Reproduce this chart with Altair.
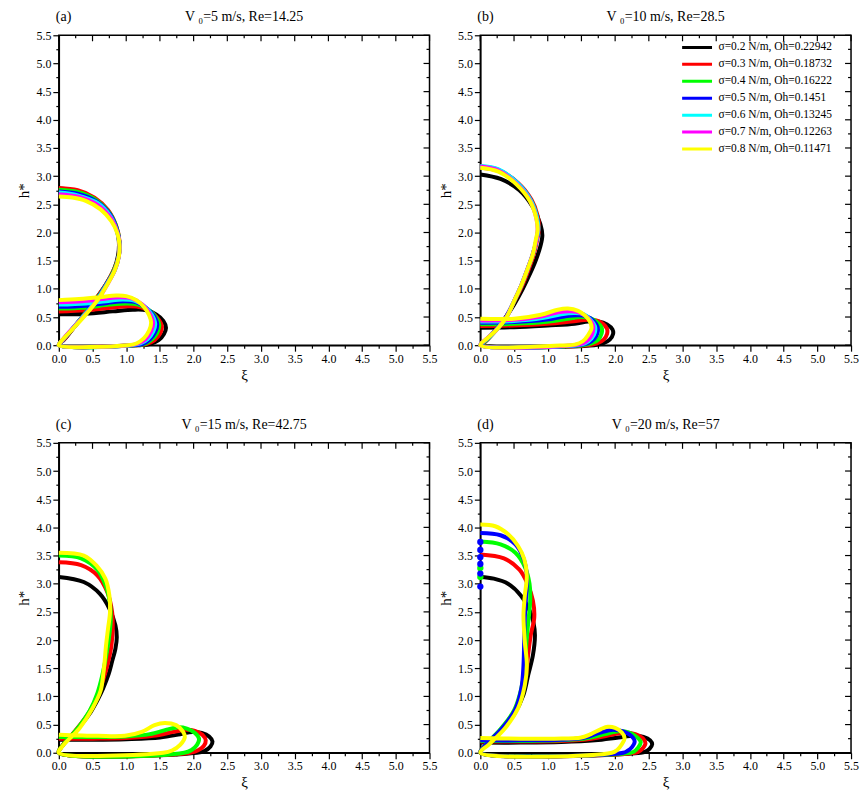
import altair as alt
import pandas as pd

FONT = "Liberation Serif"
LABELS = ["σ=0.2 N/m, Oh=0.22942", "σ=0.3 N/m, Oh=0.18732", "σ=0.4 N/m, Oh=0.16222",
          "σ=0.5 N/m, Oh=0.1451", "σ=0.6 N/m, Oh=0.13245", "σ=0.7 N/m, Oh=0.12263",
          "σ=0.8 N/m, Oh=0.11471"]
COLORS = ["#000000", "#ff0000", "#00ff00", "#0000ff", "#00ffff", "#ff00ff", "#ffff00"]
TITLES = ["V ₀=5 m/s, Re=14.25", "V ₀=10 m/s, Re=28.5", "V ₀=15 m/s, Re=42.75", "V ₀=20 m/s, Re=57"]
TAGS = ["(a)", "(b)", "(c)", "(d)"]
MAJOR = [0.0, 0.5, 1.0, 1.5, 2.0, 2.5, 3.0, 3.5, 4.0, 4.5, 5.0, 5.5]
MINOR = [0.25, 0.75, 1.25, 1.75, 2.25, 2.75, 3.25, 3.75, 4.25, 4.75, 5.25]

# ---- panel (a) V0=5 m/s ----
A_BLACK = [(0,0.55),(0.4,0.56),(0.8,0.6),(1.1,0.63),(1.3,0.62),(1.45,0.54),(1.55,0.43),(1.59,0.31),(1.56,0.2),(1.48,0.09),(1.35,0.02),(1.2,0.0),(0,0.0),
           (0.08,0.1),(0.2,0.28),(0.38,0.55),(0.55,0.82),(0.7,1.08),(0.82,1.35),(0.88,1.6),(0.89,1.85),(0.84,2.12),(0.72,2.38),(0.52,2.6),(0.28,2.73),(0,2.78)]
A_RED = [(0,0.6),(0.4,0.62),(0.8,0.67),(1.05,0.69),(1.22,0.67),(1.38,0.58),(1.48,0.46),(1.53,0.33),(1.5,0.2),(1.42,0.09),(1.3,0.02),(1.15,0.0),(0,0.0),
         (0.08,0.1),(0.2,0.28),(0.38,0.55),(0.55,0.82),(0.7,1.08),(0.82,1.35),(0.89,1.6),(0.9,1.85),(0.85,2.12),(0.73,2.4),(0.53,2.62),(0.28,2.75),(0,2.79)]
A_GREEN = [(0,0.65),(0.4,0.67),(0.75,0.72),(1.02,0.74),(1.18,0.72),(1.33,0.63),(1.44,0.5),(1.49,0.36),(1.46,0.22),(1.38,0.1),(1.27,0.02),(1.12,0.0),(0,0.0),
           (0.07,0.1),(0.19,0.27),(0.38,0.55),(0.56,0.82),(0.7,1.07),(0.82,1.34),(0.89,1.59),(0.9,1.82),(0.86,2.08),(0.75,2.35),(0.55,2.58),(0.28,2.72),(0,2.76)]
A_BLUE = [(0,0.68),(0.4,0.7),(0.72,0.75),(0.98,0.78),(1.15,0.76),(1.3,0.66),(1.41,0.52),(1.46,0.37),(1.43,0.23),(1.35,0.1),(1.24,0.02),(1.1,0.0),(0,0.0),
          (0.06,0.09),(0.18,0.26),(0.38,0.54),(0.57,0.82),(0.7,1.07),(0.83,1.34),(0.89,1.58),(0.9,1.81),(0.86,2.06),(0.76,2.32),(0.56,2.55),(0.28,2.69),(0,2.73)]
A_CYAN = [(0,0.72),(0.4,0.74),(0.7,0.78),(0.95,0.81),(1.12,0.79),(1.27,0.69),(1.38,0.54),(1.43,0.38),(1.4,0.24),(1.32,0.11),(1.21,0.03),(1.07,0.0),(0,0.0),
          (0.05,0.08),(0.17,0.25),(0.38,0.54),(0.57,0.81),(0.7,1.06),(0.83,1.33),(0.89,1.58),(0.9,1.8),(0.86,2.03),(0.77,2.28),(0.58,2.52),(0.28,2.66),(0,2.71)]
A_MAGENTA = [(0,0.76),(0.35,0.78),(0.65,0.82),(0.92,0.85),(1.08,0.83),(1.24,0.72),(1.35,0.56),(1.4,0.39),(1.37,0.25),(1.29,0.11),(1.18,0.03),(1.04,0.0),(0,0.0),
             (0.04,0.07),(0.16,0.24),(0.39,0.54),(0.58,0.81),(0.71,1.06),(0.83,1.33),(0.89,1.57),(0.9,1.79),(0.87,2.0),(0.78,2.24),(0.6,2.47),(0.3,2.63),(0,2.68)]
A_YELLOW = [(0,0.8),(0.3,0.82),(0.6,0.85),(0.85,0.88),(1.0,0.87),(1.15,0.8),(1.27,0.67),(1.34,0.53),(1.37,0.4),(1.34,0.26),(1.26,0.12),(1.15,0.03),(1.02,0.0),(0,0.0),
            (0.03,0.06),(0.16,0.23),(0.39,0.53),(0.58,0.81),(0.71,1.06),(0.83,1.33),(0.89,1.57),(0.9,1.78),(0.87,1.98),(0.78,2.2),(0.62,2.41),(0.4,2.56),(0.2,2.62),(0,2.64)]

# ---- panel (b) V0=10 m/s ----
B_BLACK = [(0,0.31),(0.5,0.32),(1.0,0.35),(1.4,0.38),(1.6,0.42),(1.75,0.42),(1.88,0.37),(1.96,0.28),(1.97,0.2),(1.92,0.1),(1.82,0.03),(1.69,0.0),(0,0.0),
           (0.06,0.05),(0.2,0.22),(0.35,0.45),(0.5,0.72),(0.63,1.0),(0.73,1.25),(0.82,1.5),(0.89,1.75),(0.92,1.95),(0.89,2.15),(0.78,2.45),(0.58,2.75),(0.3,2.95),(0,3.03)]
B_RED = [(0,0.34),(0.5,0.35),(1.0,0.38),(1.35,0.42),(1.6,0.45),(1.72,0.44),(1.82,0.38),(1.88,0.29),(1.88,0.2),(1.83,0.1),(1.73,0.03),(1.6,0.0),(0,0.0),
         (0.07,0.06),(0.21,0.24),(0.37,0.48),(0.5,0.76),(0.62,1.05),(0.71,1.32),(0.79,1.6),(0.84,1.85),(0.87,2.08),(0.85,2.3),(0.76,2.58),(0.56,2.88),(0.28,3.09),(0,3.15)]
B_GREEN = [(0,0.37),(0.5,0.38),(0.95,0.41),(1.3,0.47),(1.5,0.5),(1.63,0.48),(1.73,0.41),(1.8,0.31),(1.8,0.21),(1.75,0.1),(1.65,0.03),(1.52,0.0),(0,0.0),
           (0.08,0.08),(0.22,0.25),(0.38,0.49),(0.5,0.77),(0.61,1.06),(0.7,1.34),(0.78,1.61),(0.83,1.85),(0.86,2.07),(0.84,2.28),(0.75,2.57),(0.55,2.87),(0.27,3.1),(0,3.16)]
B_BLUE = [(0,0.4),(0.5,0.41),(0.95,0.45),(1.25,0.51),(1.45,0.53),(1.58,0.51),(1.68,0.43),(1.74,0.32),(1.74,0.22),(1.69,0.11),(1.59,0.03),(1.46,0.0),(0,0.0),
          (0.08,0.09),(0.22,0.26),(0.38,0.5),(0.5,0.78),(0.61,1.07),(0.7,1.35),(0.78,1.62),(0.83,1.85),(0.86,2.06),(0.84,2.27),(0.75,2.57),(0.55,2.88),(0.27,3.11),(0,3.17)]
B_CYAN = [(0,0.42),(0.5,0.43),(0.92,0.48),(1.2,0.55),(1.4,0.57),(1.53,0.55),(1.63,0.46),(1.7,0.34),(1.7,0.23),(1.65,0.12),(1.55,0.03),(1.42,0.0),(0,0.0),
          (0.09,0.1),(0.23,0.26),(0.39,0.5),(0.5,0.78),(0.61,1.07),(0.7,1.35),(0.78,1.62),(0.83,1.85),(0.86,2.06),(0.84,2.27),(0.75,2.57),(0.55,2.88),(0.27,3.12),(0,3.18)]
B_MAGENTA = [(0,0.44),(0.5,0.45),(0.9,0.51),(1.18,0.59),(1.35,0.6),(1.49,0.57),(1.6,0.48),(1.67,0.36),(1.67,0.24),(1.62,0.12),(1.52,0.03),(1.38,0.0),(0,0.0),
             (0.09,0.11),(0.23,0.26),(0.39,0.5),(0.5,0.78),(0.61,1.07),(0.7,1.35),(0.78,1.62),(0.83,1.85),(0.85,2.06),(0.83,2.26),(0.74,2.56),(0.54,2.86),(0.27,3.1),(0,3.17)]
B_YELLOW = [(0,0.47),(0.5,0.47),(0.9,0.54),(1.15,0.63),(1.3,0.65),(1.45,0.61),(1.56,0.52),(1.63,0.41),(1.65,0.3),(1.6,0.18),(1.52,0.07),(1.4,0.01),(1.3,0.0),(0,0.0),
            (0.1,0.12),(0.24,0.27),(0.39,0.5),(0.5,0.78),(0.61,1.07),(0.7,1.35),(0.78,1.62),(0.82,1.85),(0.85,2.05),(0.83,2.25),(0.74,2.55),(0.54,2.85),(0.27,3.08),(0,3.15)]

# ---- panel (c) V0=15 m/s ----
C_BLACK = [(0,0.23),(0.5,0.23),(1.0,0.24),(1.5,0.27),(1.8,0.33),(1.98,0.37),(2.12,0.35),(2.23,0.29),(2.28,0.2),(2.25,0.11),(2.16,0.03),(2.05,0.0),(0,0.0),
           (0.05,0.12),(0.25,0.38),(0.45,0.68),(0.58,0.95),(0.66,1.15),(0.74,1.4),(0.79,1.62),(0.84,1.85),(0.86,2.05),(0.84,2.26),(0.75,2.56),(0.61,2.82),(0.37,3.03),(0,3.12)]
C_RED = [(0,0.25),(0.5,0.25),(1.0,0.26),(1.4,0.3),(1.7,0.37),(1.88,0.41),(2.02,0.39),(2.13,0.32),(2.18,0.22),(2.15,0.12),(2.06,0.04),(1.95,0.0),(0,0.0),
         (0.05,0.12),(0.25,0.4),(0.45,0.72),(0.57,1.0),(0.66,1.3),(0.73,1.6),(0.78,1.9),(0.8,2.2),(0.79,2.5),(0.72,2.85),(0.57,3.15),(0.33,3.33),(0,3.38)]
C_GREEN = [(0,0.28),(0.5,0.28),(1.0,0.29),(1.35,0.33),(1.6,0.41),(1.75,0.45),(1.9,0.43),(2.02,0.35),(2.08,0.25),(2.05,0.14),(1.97,0.05),(1.86,0.0),(0,0.0),
           (0.05,0.12),(0.27,0.42),(0.46,0.75),(0.57,1.05),(0.64,1.35),(0.7,1.7),(0.74,2.0),(0.77,2.35),(0.76,2.65),(0.7,2.95),(0.57,3.25),(0.33,3.45),(0,3.5)]
C_YELLOW = [(0,0.32),(0.58,0.3),(0.98,0.3),(1.23,0.37),(1.42,0.49),(1.57,0.53),(1.74,0.49),(1.84,0.38),(1.87,0.28),(1.8,0.14),(1.68,0.04),(1.55,0.0),(0,0.0),
            (0.05,0.11),(0.31,0.44),(0.5,0.79),(0.62,1.1),(0.66,1.4),(0.68,1.62),(0.7,1.9),(0.73,2.2),(0.76,2.5),(0.75,2.79),(0.69,3.09),(0.56,3.32),(0.37,3.5),(0,3.55)]

# ---- panel (d) V0=20 m/s ----
D_BLACK = [(0,0.18),(0.6,0.18),(1.2,0.19),(1.7,0.22),(2.05,0.27),(2.28,0.3),(2.42,0.28),(2.52,0.22),(2.55,0.15),(2.51,0.07),(2.45,0.02),(2.38,0.0),(0,0.0),
           (0.05,0.09),(0.3,0.38),(0.5,0.68),(0.64,1.03),(0.71,1.38),(0.78,1.73),(0.81,2.09),(0.79,2.3),(0.74,2.5),(0.6,2.79),(0.41,3.0),(0.2,3.09),(0,3.12)]
D_RED = [(0,0.2),(0.6,0.2),(1.2,0.21),(1.65,0.25),(1.95,0.32),(2.15,0.36),(2.3,0.33),(2.41,0.26),(2.45,0.17),(2.41,0.08),(2.35,0.02),(2.3,0.0),(0,0.0),
         (0.05,0.1),(0.3,0.4),(0.5,0.72),(0.62,1.05),(0.68,1.4),(0.71,1.75),(0.75,2.1),(0.8,2.4),(0.78,2.7),(0.7,3.0),(0.58,3.25),(0.35,3.45),(0,3.52)]
D_GREEN = [(0,0.21),(0.6,0.21),(1.2,0.22),(1.6,0.26),(1.85,0.33),(2.05,0.38),(2.2,0.36),(2.32,0.28),(2.38,0.19),(2.34,0.09),(2.28,0.02),(2.23,0.0),(0,0.0),
           (0.05,0.1),(0.3,0.42),(0.5,0.75),(0.6,1.1),(0.66,1.5),(0.68,1.9),(0.71,2.3),(0.74,2.7),(0.73,3.0),(0.66,3.3),(0.52,3.55),(0.3,3.7),(0,3.75)]
D_BLUE = [(0,0.22),(0.6,0.22),(1.2,0.23),(1.55,0.27),(1.78,0.36),(1.97,0.41),(2.12,0.38),(2.24,0.3),(2.29,0.2),(2.25,0.1),(2.18,0.03),(2.12,0.0),(0,0.0),
          (0.05,0.1),(0.32,0.43),(0.52,0.77),(0.61,1.15),(0.64,1.55),(0.65,1.95),(0.66,2.4),(0.68,2.8),(0.69,3.15),(0.64,3.45),(0.52,3.7),(0.3,3.86),(0,3.9)]
D_YELLOW = [(0,0.26),(0.6,0.25),(1.1,0.25),(1.5,0.27),(1.64,0.33),(1.79,0.42),(1.89,0.46),(2.0,0.44),(2.1,0.36),(2.14,0.26),(2.1,0.15),(2.03,0.05),(1.95,0.0),(0,0.0),
            (0.13,0.15),(0.37,0.44),(0.56,0.79),(0.66,1.2),(0.69,1.56),(0.66,1.97),(0.64,2.44),(0.66,2.79),(0.69,3.14),(0.65,3.44),(0.56,3.67),(0.41,3.88),(0.22,4.02),(0,4.05)]
D_BLUE_DROPS = [3.74, 3.6, 3.47, 3.35, 3.18, 2.95]
D_GREEN_DROPS = [3.28, 3.12]

PANELS = [
    [(0, A_BLACK), (1, A_RED), (2, A_GREEN), (3, A_BLUE), (4, A_CYAN), (5, A_MAGENTA), (6, A_YELLOW)],
    [(0, B_BLACK), (1, B_RED), (2, B_GREEN), (3, B_BLUE), (4, B_CYAN), (5, B_MAGENTA), (6, B_YELLOW)],
    [(0, C_BLACK), (1, C_RED), (2, C_GREEN), (6, C_YELLOW)],
    [(0, D_BLACK), (1, D_RED), (2, D_GREEN), (3, D_BLUE), (6, D_YELLOW)],
]

W, H = 372, 311
MAJ_LEN, MIN_LEN = 6, 3
TICKS = sorted(MAJOR + MINOR)
TICK_SIZE = {"condition": {"test": "datum.value % 0.5 === 0", "value": MAJ_LEN}, "value": MIN_LEN}
LABEL_EXPR = "datum.value % 0.5 === 0 ? format(datum.value, '.1f') : ''"
MAJ_DF = pd.DataFrame({"x": MAJOR, "y": MAJOR})
MIN_DF = pd.DataFrame({"x": MINOR, "y": MINOR})


def make_df(curves):
    rows = []
    for s, pts in curves:
        for i, (x, y) in enumerate(pts):
            rows.append({"series": LABELS[s], "i": i, "x": x, "y": y})
    return pd.DataFrame(rows)


def panel(k, show_legend):
    df = make_df(PANELS[k])
    xs = alt.Scale(domain=[0, 5.5], nice=False, zero=False)
    ys = alt.Scale(domain=[0, 5.5], nice=False, zero=False)
    cs = alt.Scale(domain=LABELS, range=COLORS)
    xax = alt.Axis(values=TICKS, tickSize=TICK_SIZE, labelExpr=LABEL_EXPR, title="ξ",
                   labelOverlap=False, labelFlush=False, orient="bottom", titlePadding=3)
    yax = alt.Axis(values=TICKS, tickSize=TICK_SIZE, labelExpr=LABEL_EXPR, title="h*",
                   labelOverlap=False, labelFlush=False, orient="left", titlePadding=4)
    X = lambda: alt.X("x:Q", scale=xs, axis=xax)
    Y = lambda: alt.Y("y:Q", scale=ys, axis=yax)
    if show_legend:
        leg = alt.Legend(title=None, orient="none", legendX=201, legendY=4,
                         symbolType="stroke", symbolSize=900, symbolStrokeWidth=3,
                         labelFont=FONT, labelFontSize=11.5, labelColor="black",
                         clipHeight=16.3, rowPadding=0, labelLimit=300, padding=0,
                         symbolOffset=0, labelOffset=5)
    else:
        leg = None
    lines = alt.Chart(df).mark_line(strokeWidth=4, interpolate="catmull-rom").encode(
        x=X(), y=Y(),
        color=alt.Color("series:N", scale=cs, legend=leg),
        detail="series:N",
        order=alt.Order("i:Q"),
    )
    top_maj = alt.Chart(MAJ_DF).mark_rule(color="black", strokeWidth=1.2).encode(
        x=X(), y=alt.value(0), y2=alt.value(MAJ_LEN))
    top_min = alt.Chart(MIN_DF).mark_rule(color="black", strokeWidth=1.2).encode(
        x=X(), y=alt.value(0), y2=alt.value(MIN_LEN))
    right_maj = alt.Chart(MAJ_DF).mark_rule(color="black", strokeWidth=1.2).encode(
        y=Y(), x=alt.value(W), x2=alt.value(W - MAJ_LEN))
    right_min = alt.Chart(MIN_DF).mark_rule(color="black", strokeWidth=1.2).encode(
        y=Y(), x=alt.value(W), x2=alt.value(W - MIN_LEN))
    heads = alt.Chart(pd.DataFrame({"t": [TAGS[k]], "s": [TITLES[k]]}))
    tag = heads.mark_text(font=FONT, fontSize=14, align="left", baseline="middle", color="black"
                          ).encode(text="t:N", x=alt.value(-3), y=alt.value(-18))
    ttl = heads.mark_text(font=FONT, fontSize=14, align="center", baseline="middle", color="black"
                          ).encode(text="s:N", x=alt.value(W / 2), y=alt.value(-18))
    layers = [lines, top_maj, top_min, right_maj, right_min, tag, ttl]
    if k == 3:
        drops = pd.DataFrame({"x": [0.0] * (len(D_GREEN_DROPS) + len(D_BLUE_DROPS)),
                              "y": D_GREEN_DROPS + D_BLUE_DROPS,
                              "series": [LABELS[2]] * len(D_GREEN_DROPS) + [LABELS[3]] * len(D_BLUE_DROPS)})
        dots = alt.Chart(drops).mark_circle(size=40, opacity=1).encode(
            x=X(), y=Y(), color=alt.Color("series:N", scale=cs, legend=None))
        layers.insert(1, dots)
    return alt.layer(*layers).properties(width=W, height=H)


chart = alt.concat(panel(0, False), panel(1, True), panel(2, False), panel(3, False),
                   columns=2, spacing=alt.RowColnumber(row=98, column=51), bounds="flush"
                   ).resolve_scale(color="independent").properties(
    padding={"left": 8, "top": 0, "right": 0, "bottom": 0}
).configure_view(
    stroke="black", strokeWidth=1.5
).configure_axis(
    grid=False, domainColor="black", domainWidth=1.5, tickColor="black", tickWidth=1.2,
    labelFont=FONT, labelFontSize=12, labelColor="black", labelPadding=2,
    titleFont=FONT, titleFontSize=15, titleFontWeight="normal", titleColor="black"
)

chart.save("out.html", embed_options={"renderer": "svg", "actions": False})
